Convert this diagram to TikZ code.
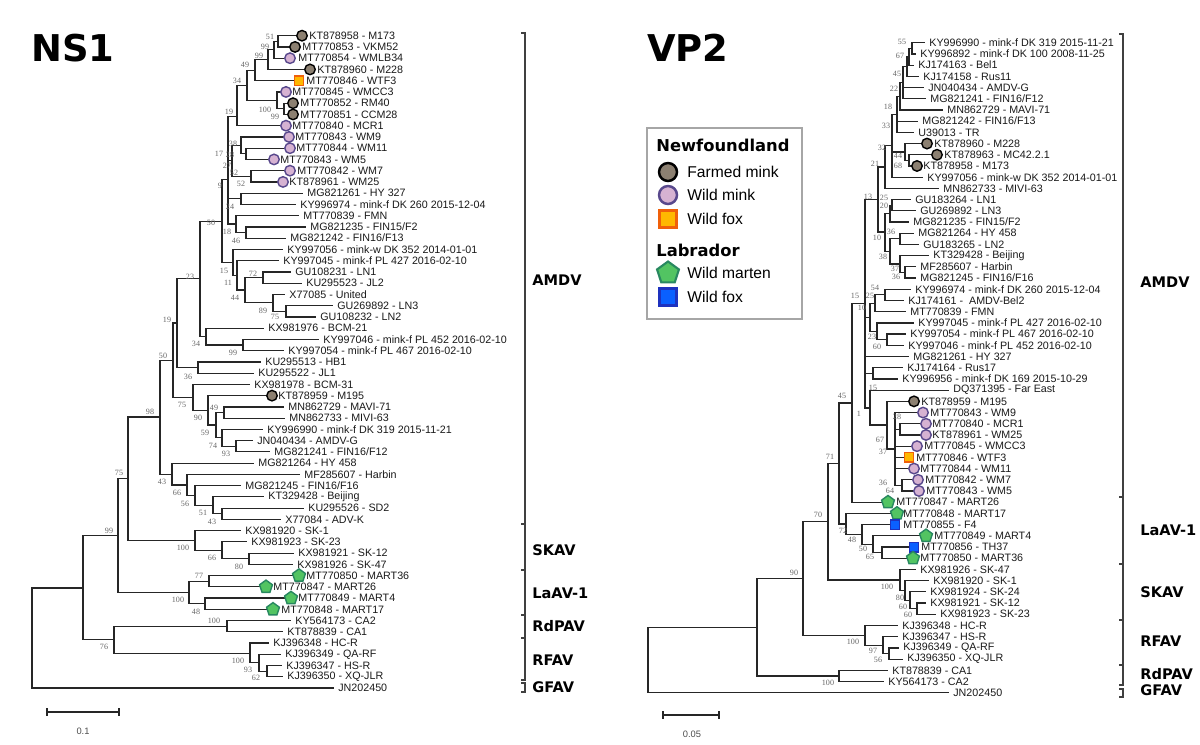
\documentclass[tikz,border=0pt]{standalone}
\usepackage{fontspec}
\setmainfont{Liberation Sans}
\newfontfamily\bootfam{Liberation Serif}
\newfontfamily\headfam{DejaVu Sans}
\usetikzlibrary{shapes.geometric,backgrounds}

\definecolor{farmedfill}{RGB}{140,128,113}
\definecolor{wminkfill}{RGB}{214,178,210}
\definecolor{wminkline}{RGB}{88,72,140}
\definecolor{wfoxfill}{RGB}{255,184,0}
\definecolor{wfoxline}{RGB}{240,96,10}
\definecolor{martenfill}{RGB}{82,196,98}
\definecolor{martenline}{RGB}{40,136,96}
\definecolor{lfoxfill}{RGB}{10,96,255}
\definecolor{lfoxline}{RGB}{30,50,190}

\begin{document}
\begin{tikzpicture}[x=0.02cm, y=-0.02cm,
   branch/.style={draw=black!85, line width=0.7pt},
   tiplab/.style={anchor=west, inner sep=0pt, font=\fontsize{6.1}{7}\selectfont, text=black!90},
   boot/.style={inner sep=0pt, font=\bootfam\fontsize{4.6}{5}\selectfont, text=black!60},
   clade/.style={anchor=west, inner sep=0pt, font=\headfam\bfseries\fontsize{8.3}{9}\selectfont},
   bracket/.style={draw=black!75, line width=0.7pt},
   mkbase/.style={inner sep=0pt, line width=0.8pt},
   farmed/.style={mkbase, circle, draw=black, fill=farmedfill, minimum size=0.21cm},
   wmink/.style={mkbase, circle, draw=wminkline, fill=wminkfill, minimum size=0.21cm},
   wfox/.style={mkbase, rectangle, draw=wfoxline, fill=wfoxfill, minimum size=0.19cm},
   marten/.style={mkbase, regular polygon, regular polygon sides=5, draw=martenline, fill=martenfill, minimum size=0.27cm},
   lfox/.style={mkbase, rectangle, draw=lfoxline, fill=lfoxfill, minimum size=0.19cm},
   legtext/.style={anchor=west, inner sep=0pt, font=\fontsize{8.9}{10}\selectfont},
   leghead/.style={anchor=west, inner sep=0pt, font=\headfam\bfseries\fontsize{9.3}{11}\selectfont}
]
\useasboundingbox (0,0) rectangle (1200,744);

% titles
\node[font=\headfam\bfseries\fontsize{21}{24}\selectfont] (ns1title) at (73,48) {NS1};
\node[font=\headfam\bfseries\fontsize{21}{24}\selectfont] (vp2title) at (688,48) {VP2};

%%% NS1 tree (rows of 11.25px)
\begin{scope}[shift={(0,24.45)}, y=-0.225cm]
  \foreach \n/\x/\rw in {a0/32/54.55, a83/83/50.1, a118/118/45.45, a128/128/40.4,
      a160/160/34.9, a173/173/29.85, a177/177/26.55, a200/200/22.6, a222/222/17.5,
      a229/228/13.8, a237/237/8.2, a247/247/5.4, a255/255/4.06, a268/268/3.125,
      a274/274/2.25, a278/278/1.5, a277/277/6.75, a284/284/7.5, a17/232/12.1,
      a38/241/10.75, a28/246/11.5, a52/251/13.5, a241/241/15.5, a236/236/17.75,
      a246/246/18.5, a233/233/21.15, a237b/237/22.3, a245/245/23.6, a263/263/22.5,
      a273/273/24.75, a286/286/25.5, a206/206/27.75, a243/243/28.5, a198/198/30.5,
      a193/193/33.15, a208/208/34.3, a216/216/35.6, a224/224/34.5, a222b/222/36.75,
      a236b/236/37.5, a172/172/39.98, a187/187/40.95, a195b/195/41.9, a213/213/42.75,
      a222c/222/43.5, a195/195/45.9, a222d/222/46.75, a249/249/47.5, a189/189/50.5,
      a209/209/49.5, a205/205/51.5, a114/114/54.7, a227/227/53.5, a250/250/55.9,
      a259/259/56.75, a267/267/57.5}
    \coordinate (\n) at (\x,\rw);
  % plain tips
  \foreach \rw/\lx/\txt in {15/307/{MG821261 - HY 327}, 16/300/{KY996974 - mink-f DK 260 2015-12-04},
      17/303/{MT770839 - FMN}, 18/310/{MG821235 - FIN15/F2}, 19/290/{MG821242 - FIN16/F13},
      20/287/{KY997056 - mink-w DK 352 2014-01-01}, 21/283/{KY997045 - mink-f PL 427 2016-02-10},
      22/295/{GU108231 - LN1}, 23/306/{KU295523 - JL2}, 24/289/{X77085 - United},
      25/337/{GU269892 - LN3}, 26/320/{GU108232 - LN2}, 27/268/{KX981976 - BCM-21},
      28/323/{KY997046 - mink-f PL 452 2016-02-10}, 29/288/{KY997054 - mink-f PL 467 2016-02-10},
      30/265/{KU295513 - HB1}, 31/258/{KU295522 - JL1}, 32/254/{KX981978 - BCM-31},
      34/288/{MN862729 - MAVI-71}, 35/289/{MN862733 - MIVI-63},
      36/267/{KY996990 - mink-f DK 319 2015-11-21}, 37/257/{JN040434 - AMDV-G},
      38/274/{MG821241 - FIN16/F12}, 39/258/{MG821264 - HY 458}, 40/304/{MF285607 - Harbin},
      41/245/{MG821245 - FIN16/F16}, 42/268/{KT329428 - Beijing}, 43/308/{KU295526 - SD2},
      44/285/{X77084 - ADV-K}, 45/245/{KX981920 - SK-1}, 46/251/{KX981923 - SK-23},
      47/298/{KX981921 - SK-12}, 48/297/{KX981926 - SK-47}, 53/295/{KY564173 - CA2},
      54/287/{KT878839 - CA1}, 55/273/{KJ396348 - HC-R}, 56/285/{KJ396349 - QA-RF},
      57/286/{KJ396347 - HS-R}, 58/287/{KJ396350 - XQ-JLR}, 59/338/{JN202450}}
  {
    \coordinate (s\rw) at (\lx-4,\rw);
    \node[tiplab] (s\rw-lab) at (\lx,\rw) {\txt};
  }
  % tips with a host marker
  \foreach \rw/\tp/\mk/\lx/\txt in {1/297/farmed/309/{KT878958 - M173},
      2/290/farmed/302/{MT770853 - VKM52}, 3/285/wmink/298/{MT770854 - WMLB34},
      4/305/farmed/317/{KT878960 - M228}, 5/294/wfox/306/{MT770846 - WTF3},
      6/281/wmink/292/{MT770845 - WMCC3}, 7/288/farmed/300/{MT770852 - RM40},
      8/288/farmed/300/{MT770851 - CCM28}, 9/281/wmink/292/{MT770840 - MCR1},
      10/284/wmink/295/{MT770843 - WM9}, 11/285/wmink/296/{MT770844 - WM11},
      12/269/wmink/280/{MT770843 - WM5}, 13/285/wmink/297/{MT770842 - WM7},
      14/278/wmink/289/{KT878961 - WM25}, 33/267/farmed/278/{KT878959 - M195},
      49/294/marten/306/{MT770850 - MART36}, 50/261/marten/273/{MT770847 - MART26},
      51/286/marten/298/{MT770849 - MART4}, 52/268/marten/281/{MT770848 - MART17}}
  {
    \coordinate (s\rw) at (\tp,\rw);
    \node[\mk] (s\rw-mk) at (\tp+5,\rw) {};
    \node[tiplab] (s\rw-lab) at (\lx,\rw) {\txt};
  }
\end{scope}

\begin{scope}[on background layer]
  \foreach \p/\c in {a0/a83, a0/s59, a83/a118, a83/a114, a118/a128, a118/a189,
      a128/a160, a128/a195, a160/a173, a160/a172, a173/a177, a173/a193,
      a177/a200, a177/a198, a200/a222, a200/a206, a222/a229, a222/a233,
      a229/a237, a229/a17, a229/a241, a229/a236, a237/a247, a237/s9,
      a247/a255, a247/a277, a255/a268, a255/s5, a268/a274, a268/s4,
      a274/a278, a274/s3, a278/s1, a278/s2, a277/s6, a277/a284, a284/s7, a284/s8,
      a17/a38, a17/a52, a38/s10, a38/a28, a28/s11, a28/s12, a52/s13, a52/s14,
      a241/s15, a241/s16, a236/s17, a236/a246, a246/s18, a246/s19,
      a233/s20, a233/a237b, a237b/s21, a237b/a245, a245/a263, a245/a273,
      a263/s22, a263/s23, a273/s24, a273/a286, a286/s25, a286/s26,
      a206/s27, a206/a243, a243/s28, a243/s29, a198/s30, a198/s31,
      a193/s32, a193/a208, a208/s33, a208/a216, a216/a224, a216/a222b,
      a224/s34, a224/s35, a222b/s36, a222b/a236b, a236b/s37, a236b/s38,
      a172/s39, a172/a187, a187/s40, a187/a195b, a195b/s41, a195b/a213,
      a213/s42, a213/a222c, a222c/s43, a222c/s44,
      a195/s45, a195/a222d, a222d/s46, a222d/a249, a249/s47, a249/s48,
      a189/a209, a189/a205, a209/s49, a209/s50, a205/s51, a205/s52,
      a114/a227, a114/a250, a227/s53, a227/s54, a250/s55, a250/a259,
      a259/s56, a259/a267, a267/s57, a267/s58}
    \draw[branch] (\p) |- (\c);
\end{scope}

% NS1 bootstrap values
\foreach \x/\y/\v [count=\k] in {270/37/51, 265/47/99, 259/56/99, 245/65/49, 237/81/34,
    265/110/100, 275/117/99, 229/112/19, 233/144/38, 219/154/17, 230/155/28, 227/166/27,
    234/173/52, 241/184/52, 220/186/9, 230/207/24, 227/232/18, 236/241/46, 211/223/50,
    224/271/15, 253/274/72, 228/283/11, 235/298/44, 263/311/89, 275/317/75, 190/277/23,
    167/320/19, 196/344/34, 233/353/99, 163/356/50, 188/377/36, 182/405/75, 214/408/49,
    198/418/90, 205/433/59, 213/446/74, 226/454/93, 150/412/98, 119/473/75, 162/482/43,
    177/493/66, 185/504/56, 203/513/51, 212/522/43, 109/531/99, 183/548/100, 212/558/66,
    239/567/80, 199/576/77, 178/600/100, 196/612/48, 214/621/100, 104/647/76,
    238/661/100, 248/670/93, 256/678/62}
  \node[boot] (nsb\k) at (\x,\y) {\v};

% NS1 clade brackets
\foreach \ya/\yb in {33/524, 524/570, 570/615, 615/638, 638/680, 683/692}
  \draw[bracket] (521,\ya) -- (525,\ya) -- (525,\yb) -- (521,\yb);
\node[clade] (ns-amdv) at (532,280) {AMDV};
\node[clade] (ns-skav) at (532,550) {SKAV};
\node[clade] (ns-laav) at (532,593) {LaAV-1};
\node[clade] (ns-rdpav) at (532,626) {RdPAV};
\node[clade] (ns-rfav) at (532,660) {RFAV};
\node[clade] (ns-gfav) at (532,687) {GFAV};

% NS1 scale
\coordinate (nsbarL) at (47,712);
\coordinate (nsbarR) at (119,712);
\draw[branch] (nsbarL) -- (nsbarR);
\draw[branch] ([yshift=0.08cm]nsbarL) -- ([yshift=-0.08cm]nsbarL);
\draw[branch] ([yshift=0.08cm]nsbarR) -- ([yshift=-0.08cm]nsbarR);
\node[font=\fontsize{5.3}{6}\selectfont, text=black!70] (nsscale) at (83,731) {0.1};

%%% VP2 tree (rows of 11.21px)
\begin{scope}[shift={(0,31.49)}, y=-0.2242cm]
  \foreach \n/\x/\rw in {b0/648/56.1, b757/757/53.15, b90/803/48.8, bCA/839/57.5,
      b70/828/43.75, bRF/865/53.9, bRF97/883/54.75, bRF56/889/55.5, bSK/900/48.95,
      bSK80/905/49.9, bSKa/910/50.75, bSKb/917/51.5, b71/839/38.55, b72/846/43.95,
      b48/862/44.9, b50/873/45.75, b65/882/46.5, b45/852/33.15, bA/865/24.3,
      b13/878/15.0, b21/885/12.1, b32/892/10.2, b33/897/7.39, b18/900/5.78,
      b22/903/4.56, b45b/907/3.125, b67/909/2.25, b55/912/1.5, b44/905/10.75,
      b68/909/11.5, b10b/885/17.9, b20/890/16.25, b25/892/15.5, b38/890/19.6,
      b36/900/18.5, b37/900/20.75, b36b/905/21.5, bB/870/25.5, b25b/875/24.25,
      b54/885/23.5, b23/877/26.75, b60/887/27.5, bR/873/30.5, b1/870/33.6,
      b67b/887/35.1, b37b/895/37.25, b28/900/35.5, b36c/902/40.5}
    \coordinate (\n) at (\x,\rw);
  \foreach \rw/\lx/\txt in {1/929/{KY996990 - mink-f DK 319 2015-11-21},
      2/920/{KY996892 - mink-f DK 100 2008-11-25}, 3/918/{KJ174163 - Bel1},
      4/923/{KJ174158 - Rus11}, 5/928/{JN040434 - AMDV-G}, 6/930/{MG821241 - FIN16/F12},
      7/947/{MN862729 - MAVI-71}, 8/922/{MG821242 - FIN16/F13}, 9/918/{U39013 - TR},
      13/927/{KY997056 - mink-w DK 352 2014-01-01}, 14/943/{MN862733 - MIVI-63},
      15/915/{GU183264 - LN1}, 16/920/{GU269892 - LN3}, 17/913/{MG821235 - FIN15/F2},
      18/918/{MG821264 - HY 458}, 19/923/{GU183265 - LN2}, 20/933/{KT329428 - Beijing},
      21/920/{MF285607 - Harbin}, 22/920/{MG821245 - FIN16/F16},
      23/915/{KY996974 - mink-f DK 260 2015-12-04}, 24/908/{KJ174161 - \ AMDV-Bel2},
      25/910/{MT770839 - FMN}, 26/918/{KY997045 - mink-f PL 427 2016-02-10},
      27/910/{KY997054 - mink-f PL 467 2016-02-10}, 28/908/{KY997046 - mink-f PL 452 2016-02-10},
      29/913/{MG821261 - HY 327}, 30/907/{KJ174164 - Rus17},
      31/902/{KY996956 - mink-f DK 169 2015-10-29}, 32/953/{DQ371395 - Far East},
      48/920/{KX981926 - SK-47}, 49/933/{KX981920 - SK-1}, 50/930/{KX981924 - SK-24},
      51/930/{KX981921 - SK-12}, 52/940/{KX981923 - SK-23}, 53/902/{KJ396348 - HC-R},
      54/902/{KJ396347 - HS-R}, 55/903/{KJ396349 - QA-RF}, 56/907/{KJ396350 - XQ-JLR},
      57/892/{KT878839 - CA1}, 58/888/{KY564173 - CA2}, 59/953/{JN202450}}
  {
    \coordinate (v\rw) at (\lx-4,\rw);
    \node[tiplab] (v\rw-lab) at (\lx,\rw) {\txt};
  }
  \foreach \rw/\tp/\mk/\lx/\txt in {10/922/farmed/934/{KT878960 - M228},
      11/932/farmed/944/{KT878963 - MC42.2.1}, 12/912/farmed/923/{KT878958 - M173},
      33/909/farmed/921/{KT878959 - M195}, 34/918/wmink/930/{MT770843 - WM9},
      35/921/wmink/932/{MT770840 - MCR1}, 36/921/wmink/932/{KT878961 - WM25},
      37/912/wmink/924/{MT770845 - WMCC3}, 38/904/wfox/916/{MT770846 - WTF3},
      39/909/wmink/920/{MT770844 - WM11}, 40/913/wmink/925/{MT770842 - WM7},
      41/914/wmink/926/{MT770843 - WM5}, 42/883/marten/896/{MT770847 - MART26},
      43/892/marten/903/{MT770848 - MART17}, 44/890/lfox/903/{MT770855 - F4},
      45/921/marten/934/{MT770849 - MART4}, 46/909/lfox/921/{MT770856 - TH37},
      47/908/marten/920/{MT770850 - MART36}}
  {
    \coordinate (v\rw) at (\tp,\rw);
    \node[\mk] (v\rw-mk) at (\tp+5,\rw) {};
    \node[tiplab] (v\rw-lab) at (\lx,\rw) {\txt};
  }
\end{scope}

\begin{scope}[on background layer]
  \foreach \p/\c in {b0/b757, b0/v59, b757/b90, b757/bCA, bCA/v57, bCA/v58,
      b90/b70, b90/bRF, bRF/v53, bRF/bRF97, bRF97/v54, bRF97/bRF56, bRF56/v55, bRF56/v56,
      b70/b71, b70/bSK, bSK/v48, bSK/bSK80, bSK80/v49, bSK80/bSKa, bSKa/v50, bSKa/bSKb,
      bSKb/v51, bSKb/v52, b71/b45, b71/b72, b72/v43, b72/b48, b48/v44, b48/b50,
      b50/v45, b50/b65, b65/v46, b65/v47, b45/bA, b45/v42,
      bA/b13, bA/bB, bA/v29, bA/bR, bA/b1, b13/b21, b13/b10b, b21/b32, b21/v14,
      b32/b33, b32/b44, b32/v13, b33/b18, b33/v8, b33/v9, b18/b22, b18/v7,
      b22/b45b, b22/v5, b22/v6, b45b/b67, b45b/v4, b67/b55, b67/v3, b55/v1, b55/v2,
      b44/v10, b44/b68, b68/v11, b68/v12, b10b/b20, b10b/b38, b20/b25, b20/v17,
      b25/v15, b25/v16, b38/b36, b38/b37, b36/v18, b36/v19, b37/v20, b37/b36b,
      b36b/v21, b36b/v22, bB/b25b, bB/b23, b25b/b54, b25b/v25, b54/v23, b54/v24,
      b23/v26, b23/b60, b60/v27, b60/v28, bR/v30, bR/v31, b1/v32, b1/b67b,
      b67b/v33, b67b/b37b, b37b/v34, b37b/b28, b37b/v37, b37b/v38, b37b/v39, b37b/b36c,
      b28/v35, b28/v36, b36c/v40, b36c/v41}
    \draw[branch] (\p) |- (\c);
\end{scope}

% VP2 bootstrap values
\foreach \x/\y/\v [count=\k] in {902/42/55, 900/56/67, 897/74/45, 894/89/22, 888/107/18,
    886/126/33, 882/148/32, 898/156/44, 898/166/68, 875/164/21, 868/197/13, 884/198/25,
    884/206/20, 891/232/36, 877/238/10, 883/257/38, 895/269/37, 896/277/36, 875/288/54,
    870/296/25, 855/296/15, 862/308/10, 872/337/23, 877/347/60, 873/388/15, 842/396/45,
    859/414/1, 897/417/28, 880/440/67, 883/452/37, 883/483/36, 890/491/64, 830/457/71,
    818/515/70, 843/531/72, 852/540/48, 863/549/50, 870/557/65, 794/573/90, 887/587/100,
    900/598/80, 903/607/60, 908/615/60, 853/642/100, 873/651/97, 878/660/56, 828/683/100}
  \node[boot] (vpb\k) at (\x,\y) {\v};

% VP2 clade brackets
\foreach \ya/\yb in {34/497, 497/564, 564/620, 620/665, 665/685, 689/697}
  \draw[bracket] (1119,\ya) -- (1123,\ya) -- (1123,\yb) -- (1119,\yb);
\node[clade] (vp-amdv) at (1140,282) {AMDV};
\node[clade] (vp-laav) at (1140,530) {LaAV-1};
\node[clade] (vp-skav) at (1140,592) {SKAV};
\node[clade] (vp-rfav) at (1140,641) {RFAV};
\node[clade] (vp-rdpav) at (1140,674) {RdPAV};
\node[clade] (vp-gfav) at (1140,690) {GFAV};

% VP2 scale
\coordinate (vpbarL) at (663,715);
\coordinate (vpbarR) at (719,715);
\draw[branch] (vpbarL) -- (vpbarR);
\draw[branch] ([yshift=0.08cm]vpbarL) -- ([yshift=-0.08cm]vpbarL);
\draw[branch] ([yshift=0.08cm]vpbarR) -- ([yshift=-0.08cm]vpbarR);
\node[font=\fontsize{5.3}{6}\selectfont, text=black!70] (vpscale) at (692,734) {0.05};

% legend
\draw[draw=black!35, line width=0.6pt] (647,128) rectangle (802,319);
\node[leghead] (lg-nl) at (656,145) {Newfoundland};
\node[farmed, minimum size=0.36cm, line width=1.4pt] (lg-fm) at (668,172) {};
\node[legtext] (lg-fmt) at (687,172) {Farmed mink};
\node[wmink, minimum size=0.36cm, line width=1.4pt] (lg-wm) at (668,195) {};
\node[legtext] (lg-wmt) at (687,195) {Wild mink};
\node[wfox, minimum size=0.34cm, line width=1.2pt] (lg-wf) at (668,219) {};
\node[legtext] (lg-wft) at (687,219) {Wild fox};
\node[leghead] (lg-lab) at (656,250) {Labrador};
\node[marten, minimum size=0.46cm, line width=1.2pt] (lg-mt) at (668,273) {};
\node[legtext] (lg-mtt) at (687,273) {Wild marten};
\node[lfox, minimum size=0.34cm, line width=1.2pt] (lg-bf) at (668,297) {};
\node[legtext] (lg-bft) at (687,297) {Wild fox};
\end{tikzpicture}
\end{document}
